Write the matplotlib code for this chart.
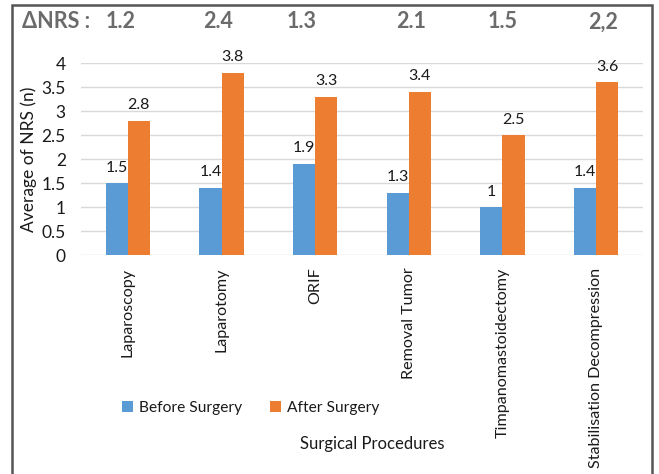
import matplotlib
matplotlib.use("Agg")
import matplotlib.pyplot as plt
import matplotlib.transforms as mtransforms
from matplotlib.patches import Rectangle
import numpy as np

plt.rcParams['font.family'] = ['Lato', 'DejaVu Sans']

procedures = ["Laparoscopy", "Laparotomy", "ORIF", "Removal Tumor",
              "Timpanomastoidectomy", "Stabilisation Decompression"]
before = [1.5, 1.4, 1.9, 1.3, 1.0, 1.4]
after = [2.8, 3.8, 3.3, 3.4, 2.5, 3.6]
before_labels = ["1.5", "1.4", "1.9", "1.3", "1", "1.4"]
after_labels = ["2.8", "3.8", "3.3", "3.4", "2.5", "3.6"]
delta_labels = ["1.2", "2.4", "1.3", "2.1", "1.5", "2,2"]
delta_offsets = [-0.08, -0.04, -0.15, 0.02, 0.0, 0.07]
yticks = [0, 0.5, 1, 1.5, 2, 2.5, 3, 3.5, 4]
ytick_labels = ["0", "0.5", "1", "1.5", "2", "2.5", "3", "3.5", "4"]

blue = "#5B9BD5"
orange = "#ED7D31"
text_color = "#1a1a1a"

W, H = 659, 474
fig = plt.figure(figsize=(W / 100, H / 100), dpi=100)
ax = fig.add_axes([81 / W, 1 - 255 / H, (643 - 81) / W, (255 - 63) / H])

x = np.arange(len(procedures))
w = 0.235
b1 = ax.bar(x - w / 2, before, w, color=blue, label="Before Surgery", zorder=3)
b2 = ax.bar(x + w / 2, after, w, color=orange, label="After Surgery", zorder=3)

for bars, labels in ((b1, before_labels), (b2, after_labels)):
    for rect, lab in zip(bars, labels):
        ax.annotate(lab, (rect.get_x() + rect.get_width() / 2, rect.get_height()),
                    xytext=(0, 6), textcoords="offset points",
                    ha="center", va="bottom", fontsize=11.5, color=text_color)

ax.set_xlim(-0.5, len(procedures) - 0.5)
ax.set_ylim(0, 4)
ax.set_yticks(yticks)
ax.set_yticklabels(ytick_labels, fontsize=12.5, color=text_color)
ax.set_xticks(x)
ax.set_xticklabels(procedures, rotation=90, fontsize=11.6, color=text_color)
ax.tick_params(axis="both", length=0)
ax.tick_params(axis="y", pad=11)
ax.tick_params(axis="x", pad=9)
ax.grid(axis="y", color="#d9d9d9", linewidth=1, zorder=0)
for s in ax.spines.values():
    s.set_visible(False)

ax.set_ylabel("Average of NRS (n)", fontsize=12.5, color=text_color)
ax.yaxis.set_label_coords(-0.078, 0.5)

# header row with the NRS differences
trans = mtransforms.blended_transform_factory(ax.transData, fig.transFigure)
fig.text(22 / W, 1 - 22 / H, "ΔNRS :", fontsize=15.5, fontweight="bold",
         color="#6b6b6b", ha="left", va="center")
for i, (lab, off) in enumerate(zip(delta_labels, delta_offsets)):
    fig.text(i + off, 1 - 22 / H, lab, transform=trans, fontsize=15.5,
             fontweight="bold", color="#6b6b6b", ha="center", va="center")

fig.legend(handles=[b1, b2], loc="center left",
           bbox_to_anchor=(108 / W, 1 - 408 / H), ncol=2, frameon=False,
           fontsize=11.2, handlelength=0.7, handleheight=0.7,
           handletextpad=0.4, columnspacing=1.8, labelcolor=text_color)
fig.text(372 / W, 1 - 444 / H, "Surgical Procedures", fontsize=12,
         color=text_color, ha="center", va="center")

# outer frame
fig.patches.append(Rectangle((11.5 / W, -0.02), (652 - 11.5) / W, 1 - 5 / H + 0.02,
                             transform=fig.transFigure, fill=False,
                             edgecolor="#555555", linewidth=1.8))

fig.savefig("out.png", dpi=100)
